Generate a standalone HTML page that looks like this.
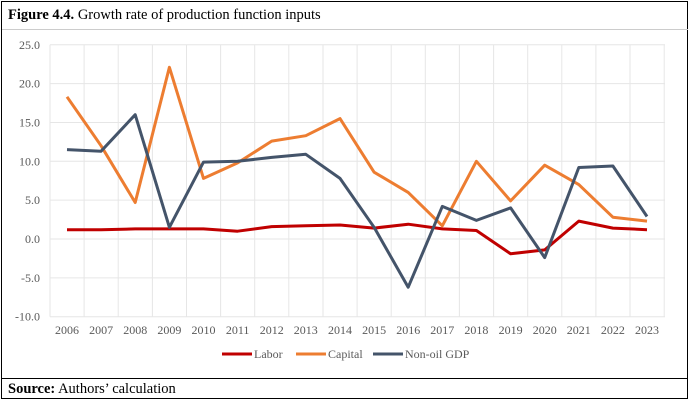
<!DOCTYPE html><html><head><style>body{margin:0;background:#fff}svg{display:block}</style></head><body>
<svg width="699" height="411" xmlns="http://www.w3.org/2000/svg">
<rect x="1.5" y="1.5" width="686" height="397" fill="#fff" stroke="#000" stroke-width="1"/>
<line x1="2" y1="29.5" x2="688" y2="29.5" stroke="#ccc"/>
<line x1="2" y1="378.5" x2="688" y2="378.5" stroke="#000"/>
<text x="8" y="19" font-size="14.5" font-family="'Liberation Serif', serif"><tspan font-weight="bold">Figure 4.4.</tspan> Growth rate of production function inputs</text>
<text x="8" y="393" font-size="14.5" font-family="'Liberation Serif', serif"><tspan font-weight="bold">Source:</tspan> Authors’ calculation</text>
<g stroke="#e6e6e6" stroke-width="1">
<line x1="50" x2="665" y1="44.75" y2="44.75"/><line x1="50" x2="665" y1="83.6" y2="83.6"/><line x1="50" x2="665" y1="122.45" y2="122.45"/><line x1="50" x2="665" y1="161.3" y2="161.3"/><line x1="50" x2="665" y1="200.15" y2="200.15"/><line x1="50" x2="665" y1="239" y2="239"/><line x1="50" x2="665" y1="277.85" y2="277.85"/><line x1="50" x2="665" y1="316.7" y2="316.7"/>
<path d="M50 44.75V316.7M84.1 44.75V316.7M118.2 44.75V316.7M152.4 44.75V316.7M186.5 44.75V316.7M220.6 44.75V316.7M254.7 44.75V316.7M288.8 44.75V316.7M323 44.75V316.7M357.1 44.75V316.7M391.2 44.75V316.7M425.3 44.75V316.7M459.4 44.75V316.7M493.6 44.75V316.7M527.7 44.75V316.7M561.8 44.75V316.7M595.9 44.75V316.7M630 44.75V316.7M664.2 44.75V316.7"/>
</g>
<g font-size="12" fill="#595959" text-anchor="end" font-family="'Liberation Serif', serif">
<text x="40" y="48.75">25.0</text><text x="40" y="87.6">20.0</text><text x="40" y="126.45">15.0</text><text x="40" y="165.3">10.0</text><text x="40" y="204.15">5.0</text><text x="40" y="243">0.0</text><text x="40" y="281.85">-5.0</text><text x="40" y="320.7">-10.0</text>
</g>
<g font-size="12" fill="#595959" text-anchor="middle" font-family="'Liberation Serif', serif">
<text x="67" y="334">2006</text><text x="101.1" y="334">2007</text><text x="135.2" y="334">2008</text><text x="169.4" y="334">2009</text><text x="203.5" y="334">2010</text><text x="237.6" y="334">2011</text><text x="271.7" y="334">2012</text><text x="305.8" y="334">2013</text><text x="340" y="334">2014</text><text x="374.1" y="334">2015</text><text x="408.2" y="334">2016</text><text x="442.3" y="334">2017</text><text x="476.4" y="334">2018</text><text x="510.6" y="334">2019</text><text x="544.7" y="334">2020</text><text x="578.8" y="334">2021</text><text x="612.9" y="334">2022</text><text x="647" y="334">2023</text>
</g>
<g fill="none" stroke-width="3" stroke-linejoin="round">
<polyline stroke="#c00000" points="67,229.7 101.1,229.7 135.2,228.9 169.4,228.9 203.5,228.9 237.6,231.2 271.7,226.6 305.8,225.8 340,225 374.1,228.1 408.2,224.2 442.3,228.9 476.4,230.5 510.6,253.8 544.7,249.9 578.8,221.1 612.9,228.1 647,229.7"/>
<polyline stroke="#ed7d31" points="67,96.8 101.1,145.8 135.2,202.5 169.4,67.3 203.5,178.4 237.6,162.9 271.7,141.1 305.8,135.7 340,118.6 374.1,172.2 408.2,192.4 442.3,225.8 476.4,161.3 510.6,200.9 544.7,165.2 578.8,184.6 612.9,217.2 647,221.1"/>
<polyline stroke="#44546a" points="67,149.6 101.1,151.2 135.2,114.7 169.4,227.3 203.5,162.1 237.6,161.3 271.7,157.4 305.8,154.3 340,178.4 374.1,227.3 408.2,287.2 442.3,206.4 476.4,220.4 510.6,207.9 544.7,257.6 578.8,167.5 612.9,166 647,216.5"/>
</g>
<g font-size="12" fill="#595959" font-family="'Liberation Serif', serif">
<line x1="222" y1="354" x2="252" y2="354" stroke="#c00000" stroke-width="3"/><text x="254" y="358">Labor</text>
<line x1="296" y1="354" x2="326" y2="354" stroke="#ed7d31" stroke-width="3"/><text x="328" y="358">Capital</text>
<line x1="373" y1="354" x2="403" y2="354" stroke="#44546a" stroke-width="3"/><text x="405" y="358">Non-oil GDP</text>
</g>
</svg></body></html>
